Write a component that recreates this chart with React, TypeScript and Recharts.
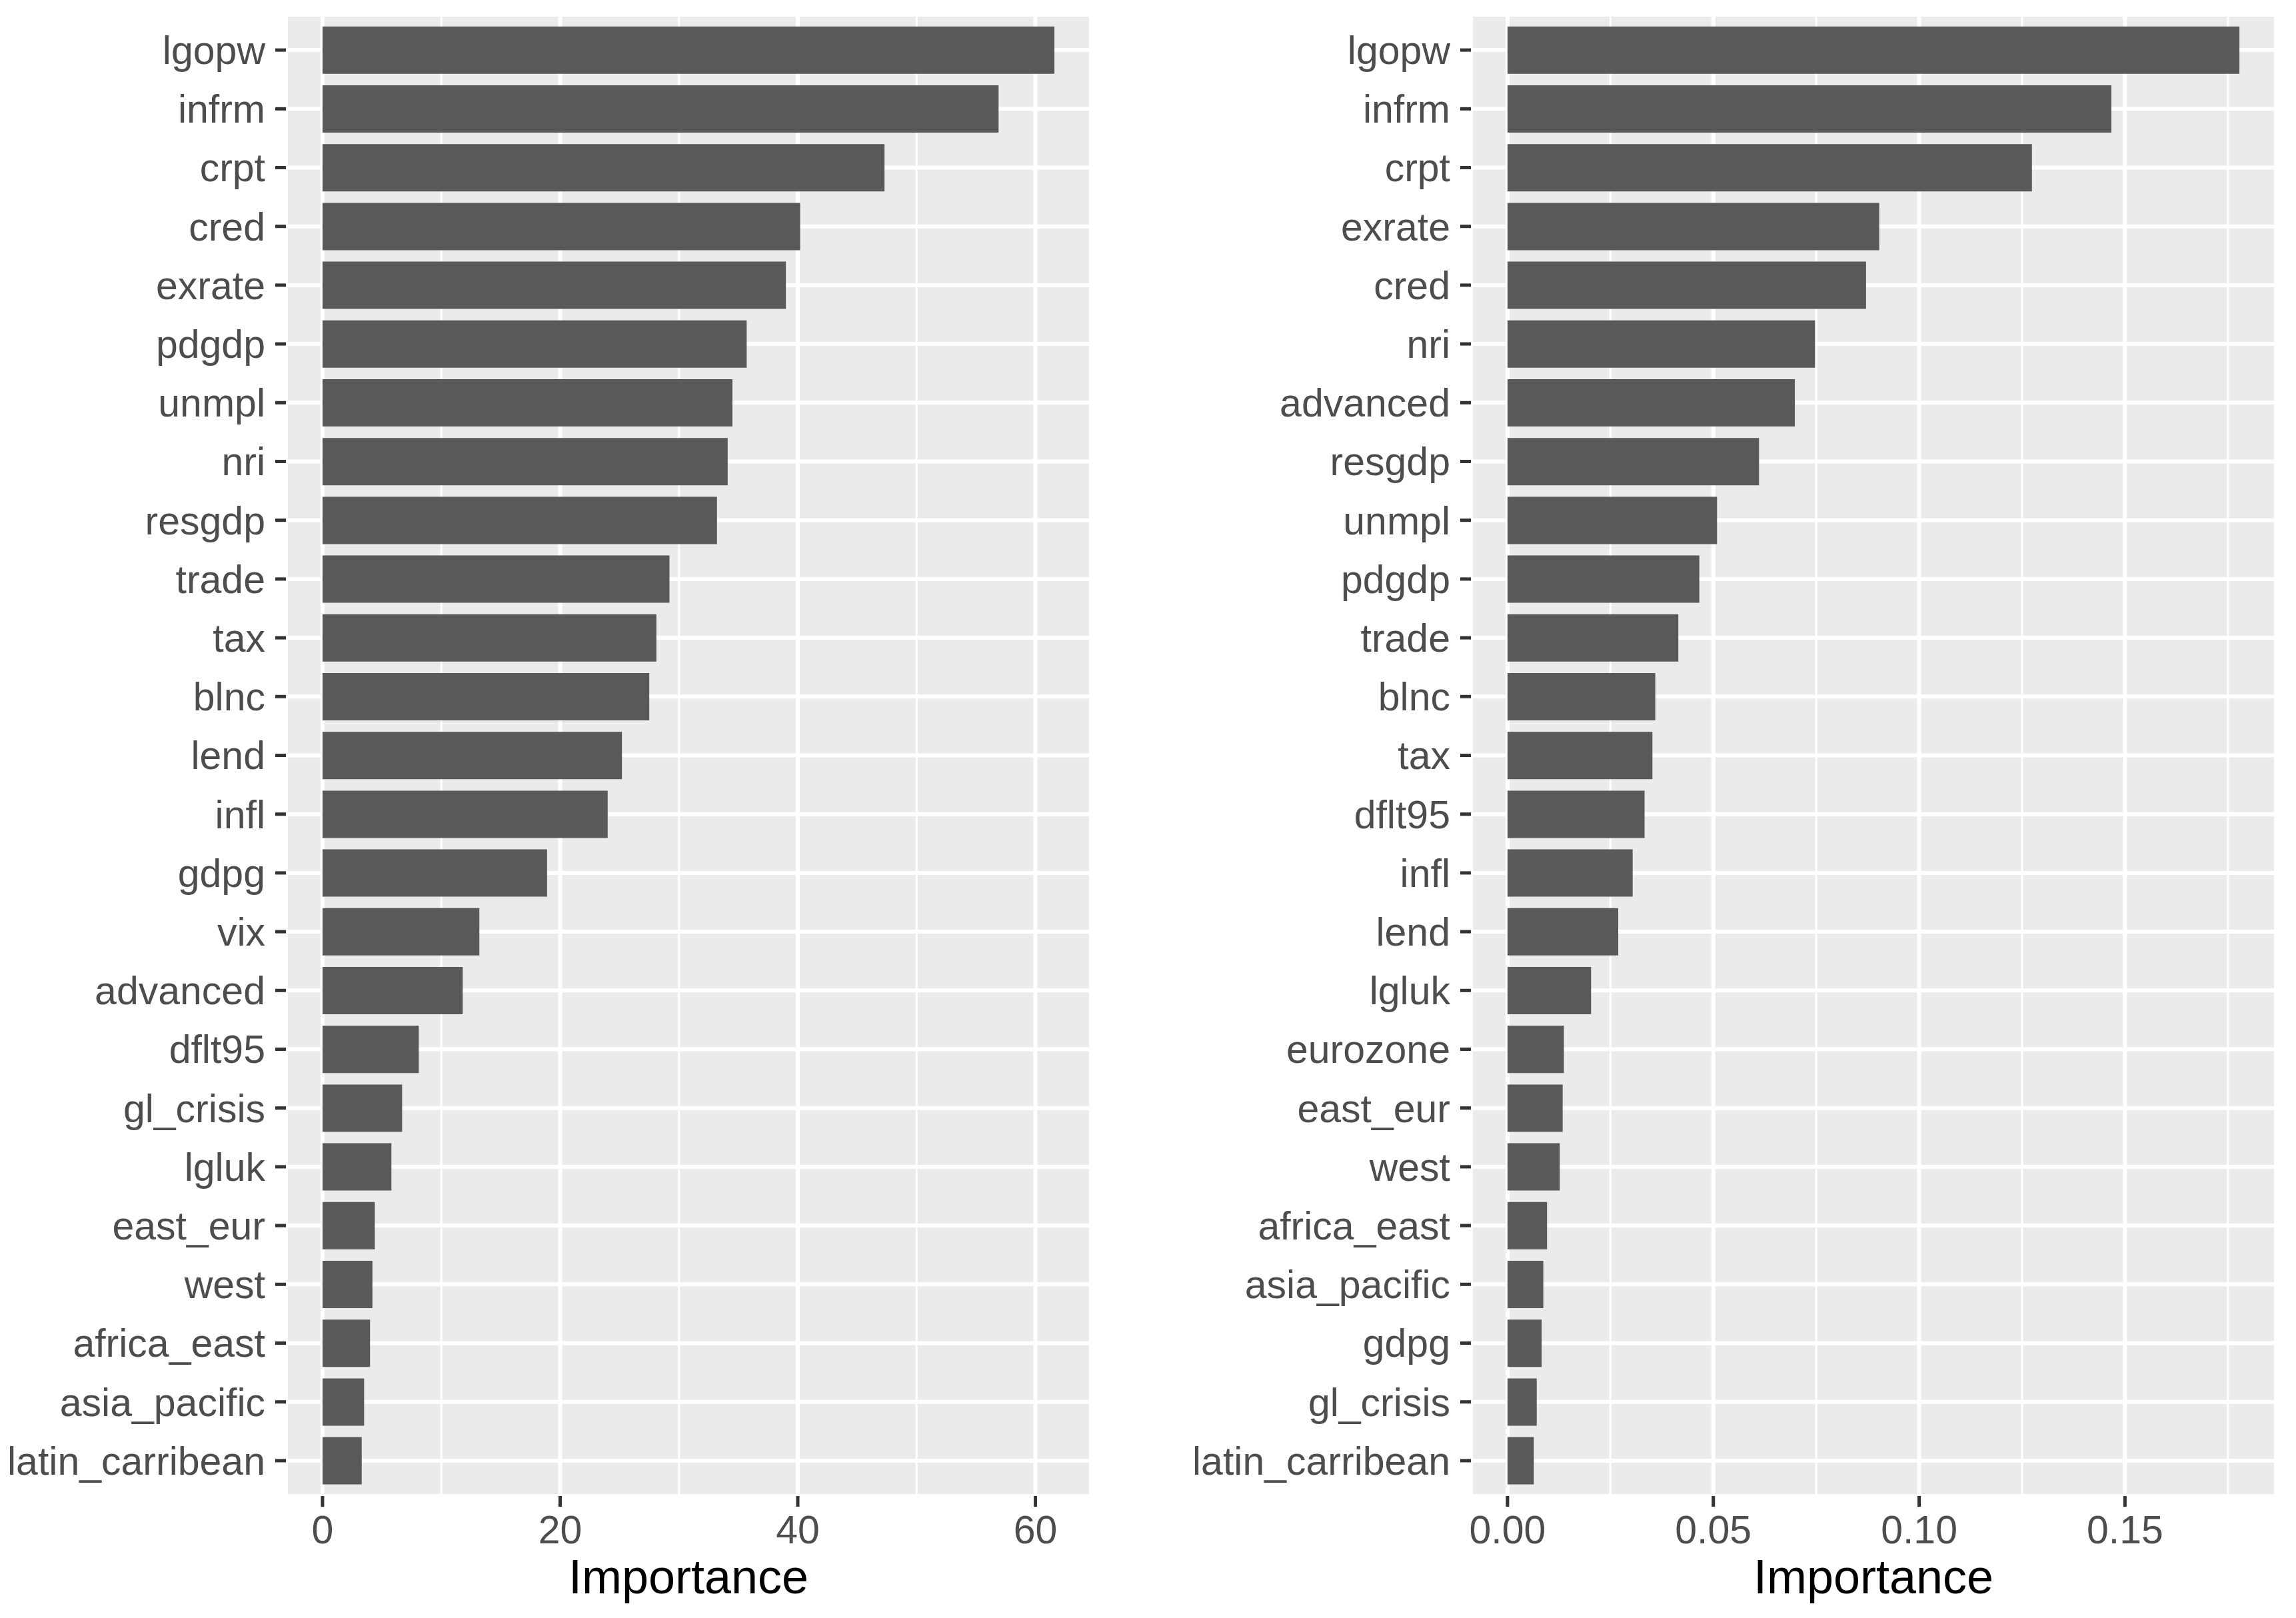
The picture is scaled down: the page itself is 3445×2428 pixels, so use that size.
import React from 'react';
import { BarChart, Bar, XAxis, YAxis, CartesianGrid, Label } from 'recharts';

// Left panel (ordered top to bottom)
const leftNames = [
  'lgopw', 'infrm', 'crpt', 'cred', 'exrate', 'pdgdp', 'unmpl', 'nri', 'resgdp', 'trade',
  'tax', 'blnc', 'lend', 'infl', 'gdpg', 'vix', 'advanced', 'dflt95', 'gl_crisis', 'lgluk',
  'east_eur', 'west', 'africa_east', 'asia_pacific', 'latin_carribean',
];
const leftValues = [
  61.6, 56.9, 47.3, 40.2, 39.0, 35.7, 34.5, 34.1, 33.2, 29.2,
  28.1, 27.5, 25.2, 24.0, 18.9, 13.2, 11.8, 8.1, 6.7, 5.8,
  4.4, 4.2, 4.0, 3.5, 3.3,
];
const leftMajorTicks = [0, 20, 40, 60];
const leftMinorTicks = [10, 30, 50];

// Right panel (ordered top to bottom)
const rightNames = [
  'lgopw', 'infrm', 'crpt', 'exrate', 'cred', 'nri', 'advanced', 'resgdp', 'unmpl', 'pdgdp',
  'trade', 'blnc', 'tax', 'dflt95', 'infl', 'lend', 'lgluk', 'eurozone', 'east_eur', 'west',
  'africa_east', 'asia_pacific', 'gdpg', 'gl_crisis', 'latin_carribean',
];
const rightValues = [
  0.1778, 0.1467, 0.1274, 0.0903, 0.0871, 0.0747, 0.0698, 0.0611, 0.0509, 0.0466,
  0.0415, 0.0359, 0.0352, 0.0333, 0.0304, 0.0269, 0.0203, 0.0137, 0.0134, 0.0127,
  0.0096, 0.0087, 0.0083, 0.0071, 0.0064,
];
const rightMajorTicks = [0, 0.05, 0.1, 0.15];
const rightMinorTicks = [0.025, 0.075, 0.125, 0.175];

const FONT = '"Liberation Sans", Arial, Helvetica, sans-serif';
const PANEL_BG = '#EBEBEB';
const BAR_FILL = '#595959';
const TICK_TEXT = '#4D4D4D';
const TICK_LINE = '#333333';

type PanelProps = {
  names: string[];
  values: number[];
  majorTicks: number[];
  minorTicks: number[];
  width: number;
  yAxisWidth: number;
  rightMargin: number;
  fmt: (v: number) => string;
};

function Panel({ names, values, majorTicks, minorTicks, width, yAxisWidth, rightMargin, fmt }: PanelProps) {
  const data = names.map((n, i) => ({ name: n, value: values[i] }));
  const max = Math.max(...values);
  const domain: [number, number] = [-0.05 * max, 1.05 * max];
  const tickStyle = { fill: TICK_TEXT, fontSize: 59, fontFamily: FONT };
  return (
    <BarChart
      width={width}
      height={2428}
      data={data}
      layout="vertical"
      margin={{ top: 22, right: rightMargin, bottom: 0, left: 0 }}
      barCategoryGap="10%"
      style={{ fontFamily: FONT }}
    >
      <CartesianGrid
        fill={PANEL_BG}
        fillOpacity={1}
        stroke="#FFFFFF"
        strokeWidth={6}
      />
      <CartesianGrid
        xAxisId="minor"
        horizontal={false}
        stroke="#FFFFFF"
        strokeWidth={3}
      />
      <XAxis
        type="number"
        dataKey="value"
        domain={domain}
        allowDataOverflow
        ticks={majorTicks}
        interval={0}
        tickFormatter={fmt}
        height={183}
        tickSize={16}
        tickMargin={13}
        axisLine={false}
        tickLine={{ stroke: TICK_LINE, strokeWidth: 5 }}
        tick={tickStyle}
      >
        <Label
          value="Importance"
          position="insideBottom"
          offset={37}
          fill="#000000"
          fontSize={72}
          fontFamily={FONT}
        />
      </XAxis>
      <XAxis
        xAxisId="minor"
        type="number"
        domain={domain}
        allowDataOverflow
        ticks={minorTicks}
        interval={0}
        hide
      />
      <YAxis
        type="category"
        dataKey="name"
        width={yAxisWidth}
        interval={0}
        tickSize={16}
        tickMargin={15}
        padding={{ top: 9, bottom: 9 }}
        axisLine={false}
        tickLine={{ stroke: TICK_LINE, strokeWidth: 5 }}
        tick={tickStyle}
      />
      <Bar dataKey="value" fill={BAR_FILL} isAnimationActive={false} />
    </BarChart>
  );
}

export default function App() {
  return (
    <div
      style={{
        position: 'absolute',
        left: 0,
        top: 0,
        width: 3445,
        height: 2428,
        background: '#FFFFFF',
        display: 'flex',
        flexDirection: 'row',
      }}
    >
      <Panel
        names={leftNames}
        values={leftValues}
        majorTicks={leftMajorTicks}
        minorTicks={leftMinorTicks}
        width={1722}
        yAxisWidth={429}
        rightMargin={85}
        fmt={(v) => String(v)}
      />
      <Panel
        names={rightNames}
        values={rightValues}
        majorTicks={rightMajorTicks}
        minorTicks={rightMinorTicks}
        width={1723}
        yAxisWidth={485}
        rightMargin={30}
        fmt={(v) => v.toFixed(2)}
      />
    </div>
  );
}
